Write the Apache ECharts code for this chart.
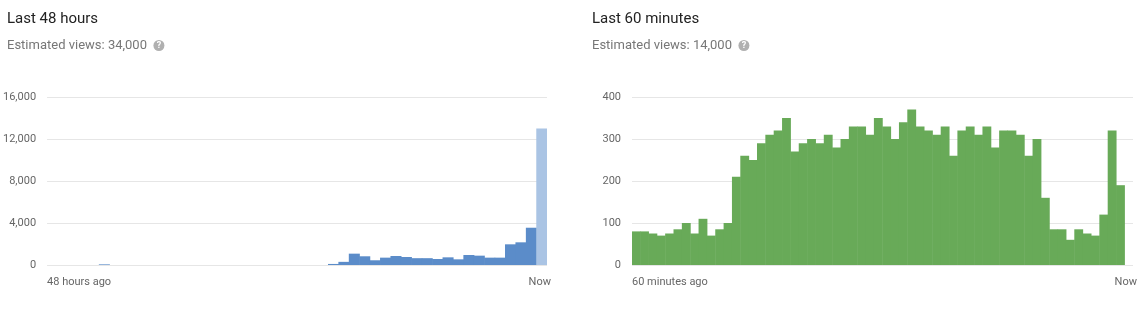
<!DOCTYPE html>
<html>
<head>
<meta charset="utf-8">
<script src="https://cdn.jsdelivr.net/npm/echarts@6/dist/echarts.min.js"></script>
<style>
html,body{margin:0;padding:0;background:#fff;}
#chart{width:1148px;height:312px;}
</style>
</head>
<body>
<div id="chart"></div>
<script>
// ---- data ----
const leftTitle = 'Last 48 hours';
const leftSubtitle = 'Estimated views: 34,000';
const rightTitle = 'Last 60 minutes';
const rightSubtitle = 'Estimated views: 14,000';

const hourCategories = Array.from({length: 48}, (_, i) => String(i));
const hourViews = [0,0,0,0,0,60,0,0,0,0,0,0,0,0,0,0,0,0,0,0,0,0,0,0,0,0,0,
  100,300,1080,830,450,700,860,760,650,650,570,730,540,950,890,700,700,1970,2160,3550,13000];

const minuteCategories = Array.from({length: 60}, (_, i) => String(i));
const minuteViews = [80,80,75,70,75,85,100,75,110,70,85,100,210,260,250,290,310,320,350,270,
  290,300,290,310,280,300,330,330,310,350,330,300,340,370,330,320,310,330,260,320,
  330,310,330,280,320,320,310,260,300,160,85,85,60,85,75,70,120,320,190,null];

const leftYTicks = [0, 4000, 8000, 12000, 16000];
const rightYTicks = [0, 100, 200, 300, 400];
const leftXEndLabels = ['48 hours ago', 'Now'];
const rightXEndLabels = ['60 minutes ago', 'Now'];

// ---- chart ----
const FONT = 'Roboto, "Noto Sans", sans-serif';
const fmt = v => Number(v).toLocaleString('en-US');

function titleBlock(text, sub, left) {
  return {
    left: left, top: 7,
    text: text,
    textStyle: {fontFamily: FONT, fontSize: 15, fontWeight: 'normal', color: '#222'},
    subtext: sub + '  {q|?}',
    subtextStyle: {
      fontFamily: FONT, fontSize: 13, color: '#777',
      rich: {q: {backgroundColor: '#b0b0b0', color: '#fff', borderRadius: 6, width: 11, height: 11,
                 fontSize: 9, fontWeight: 'bold', align: 'center', lineHeight: 11, padding: [0,0,0,0]}}
    },
    itemGap: 12
  };
}

const BLUE = '#5b8cc9', LIGHT_BLUE = '#aac4e4', GREEN = '#68aa58';
const leftColors = hourViews.map((v, i) => i === hourViews.length - 1 ? LIGHT_BLUE : BLUE);

function endLabelAxis(grid, labels) {
  return {gridIndex: grid, type: 'value', min: 0, max: 1, interval: 1, position: 'bottom',
    axisLine: {show: false}, axisTick: {show: false}, splitLine: {show: false},
    axisLabel: {show: true, margin: 12, fontFamily: FONT, fontSize: 11, color: '#666',
      alignMinLabel: 'left', alignMaxLabel: 'right',
      formatter: v => v === 0 ? labels[0] : '{r|' + labels[1] + '}',
      rich: {r: {fontFamily: FONT, fontSize: 11, color: '#666', padding: [0, -4, 0, 0]}}}};
}

function valueAxis(grid, ticks) {
  return {gridIndex: grid, type: 'value', min: ticks[0], max: ticks[ticks.length - 1],
    interval: ticks[1] - ticks[0],
    axisLine: {show: false}, axisTick: {show: false},
    axisLabel: {margin: 11, fontFamily: FONT, fontSize: 11, color: '#666', formatter: fmt},
    splitLine: {lineStyle: {color: '#e6e6e6', width: 1}}};
}

function catAxis(grid, cats) {
  return {gridIndex: grid, type: 'category', data: cats, boundaryGap: true,
    axisLine: {show: false}, axisTick: {show: false}, axisLabel: {show: false}, splitLine: {show: false}};
}

const option = {
  animation: false,
  title: [titleBlock(leftTitle, leftSubtitle, 2), titleBlock(rightTitle, rightSubtitle, 587)],
  grid: [
    {left: 47, right: 601, top: 97, bottom: 47, containLabel: false},
    {left: 632, right: 15, top: 97, bottom: 47, containLabel: false}
  ],
  xAxis: [
    catAxis(0, hourCategories),
    catAxis(1, minuteCategories),
    endLabelAxis(0, leftXEndLabels),
    endLabelAxis(1, rightXEndLabels)
  ],
  yAxis: [valueAxis(0, leftYTicks), valueAxis(1, rightYTicks)],
  series: [
    {type: 'bar', xAxisIndex: 0, yAxisIndex: 0, barWidth: '106%',
     data: hourViews.map((v, i) => ({value: v, itemStyle: {color: leftColors[i]}}))},
    {type: 'bar', xAxisIndex: 1, yAxisIndex: 1, barWidth: '106%',
     itemStyle: {color: GREEN},
     data: minuteViews}
  ]
};

const chart = echarts.init(document.getElementById('chart'), null, {renderer: 'canvas'});
chart.setOption(option);
</script>
</body>
</html>
